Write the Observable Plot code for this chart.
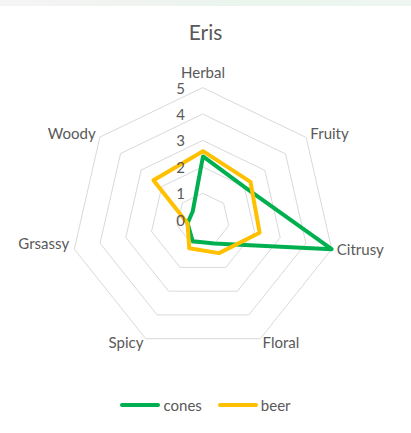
<!DOCTYPE html>
<html>
<head>
<meta charset="utf-8">
<script src="https://cdn.jsdelivr.net/npm/d3@7"></script>
<script src="https://cdn.jsdelivr.net/npm/@observablehq/plot@0.6"></script>
<style>
  html, body { margin: 0; padding: 0; background: #fff; }
  #wrap { width: 411px; height: 433px; position: relative; overflow: hidden; font-family: Lato, "Open Sans", sans-serif; color: #595959; }
  #topbar { position: absolute; left: 0; top: 0; width: 411px; height: 6px;
    background: linear-gradient(90deg, #f4f5f4 0%, #f1f3f1 30%, #e9f5ed 60%, #eef6f1 100%); }
  #title { height: 50px; text-align: center; font-size: 21px; line-height: 64px; }
  #chart svg { display: block; }
  #legend { height: 43px; display: flex; justify-content: center; align-items: center; font-size: 15px; gap: 16px; padding-left: 0px; box-sizing: border-box; padding-bottom: 14px; }
  .item { display: flex; align-items: center; }
  .sw { display: inline-block; width: 40px; height: 4px; border-radius: 2px; margin-right: 3px; }
</style>
</head>
<body>
<div id="wrap">
  <div id="topbar"></div>
  <div id="title"></div>
  <div id="chart"></div>
  <div id="legend"></div>
</div>
<script>
// ---- data ----
const title = "Eris";
const categories = ["Herbal", "Fruity", "Citrusy", "Floral", "Spicy", "Grsassy", "Woody"];
const cones = [2.4, 2.0, 5.0, 1.0, 0.9, 0.6, 0.5];
const beer  = [2.6, 2.3, 2.2, 1.4, 1.2, 0.6, 2.4];
const ticks = [0, 1, 2, 3, 4, 5];
const seriesNames = ["cones", "beer"];
const seriesColors = ["#00B050", "#FFC000"];

// ---- build ----
const n = categories.length;
const ang = i => i * 2 * Math.PI / n;
const px = (r, i) => r * Math.sin(ang(i));
const py = (r, i) => r * Math.cos(ang(i));

const seriesRows = [];
[cones, beer].forEach((vals, s) => vals.forEach((v, i) => seriesRows.push({series: seriesNames[s], i, v})));

const gridRows = [];
ticks.filter(t => t > 0).forEach(t => categories.forEach((c, i) => gridRows.push({t, i})));

const labelRows = categories.map((c, i) => ({c, i, s: Math.sin(ang(i)), k: Math.cos(ang(i))}));

const W = 411, H = 340, cx = 202.5, cy = 169.3, R = 132;
const FONT = 'Lato, "Open Sans", sans-serif';
const lab = (rows, opts) => Plot.text(rows, {x: d => px(5.2, d.i), y: d => py(5.2, d.i), text: "c", fill: "#595959", fontSize: 15, ...opts});

const plot = Plot.plot({
  width: W, height: H,
  marginLeft: cx - R, marginRight: W - cx - R,
  marginTop: cy - R, marginBottom: H - cy - R,
  x: {domain: [-5, 5], axis: null},
  y: {domain: [-5, 5], axis: null},
  color: {domain: seriesNames, range: seriesColors},
  style: {fontFamily: FONT, fontSize: "15px", color: "#595959", overflow: "visible", background: "transparent"},
  marks: [
    Plot.line(gridRows, {x: d => px(d.t, d.i), y: d => py(d.t, d.i), z: "t", curve: "linear-closed", stroke: "#d9d9d9", strokeWidth: 1}),
    Plot.line(seriesRows, {x: d => px(d.v, d.i), y: d => py(d.v, d.i), z: "series", stroke: "series", curve: "linear-closed", strokeWidth: 4, strokeLinejoin: "round"}),
    Plot.text(ticks, {x: 0, y: d => d, text: d => String(d), textAnchor: "end", dx: -18, dy: 1, fill: "#595959", fontSize: 15}),
    lab(labelRows.filter(d => Math.abs(d.s) < 0.1), {textAnchor: "middle", lineAnchor: "bottom", dy: -5}),
    lab(labelRows.filter(d => d.s >= 0.1), {textAnchor: "start"}),
    lab(labelRows.filter(d => d.s <= -0.1 && Math.abs(d.k) >= 0.4), {textAnchor: "end"}),
    lab(labelRows.filter(d => d.s <= -0.1 && Math.abs(d.k) < 0.4), {textAnchor: "end", dy: -6})
  ]
});

document.getElementById("title").textContent = title;
document.getElementById("chart").appendChild(plot);
const lg = document.getElementById("legend");
seriesNames.forEach((s, k) => {
  const it = document.createElement("span");
  it.className = "item";
  const sw = document.createElement("span");
  sw.className = "sw";
  sw.style.background = seriesColors[k];
  it.appendChild(sw);
  const t = document.createElement("span");
  t.textContent = s;
  it.appendChild(t);
  lg.appendChild(it);
});
</script>
</body>
</html>
